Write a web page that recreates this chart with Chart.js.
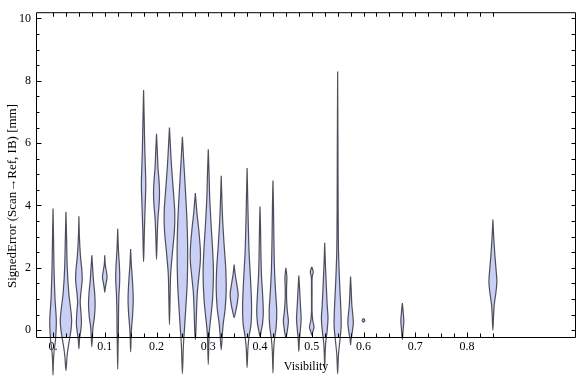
<!DOCTYPE html>
<html>
<head>
<meta charset="utf-8">
<script src="https://cdn.jsdelivr.net/npm/chart.js@4/dist/chart.umd.min.js"></script>
<style>
  html, body { margin: 0; padding: 0; background: #fff; }
</style>
</head>
<body>
<canvas id="myChart" width="576" height="377"></canvas>
<script>
// violin centres (Visibility bins)
const visibility = [0, 0.025, 0.05, 0.075, 0.1, 0.125, 0.15, 0.175, 0.2, 0.225, 0.25, 0.275, 0.3,
  0.325, 0.35, 0.375, 0.4, 0.425, 0.45, 0.475, 0.5, 0.525, 0.55, 0.575, 0.6, 0.675, 0.85];

// signed error levels of each violin, top to bottom [mm]
const errorLevels = [
  [3.9, 3.0, 2.0, 1.0, 0.3, -0.3, -0.7, -1.0, -1.44],
  [3.8, 3.0, 2.0, 1.2, 0.6, 0.3, 0, -0.4, -0.8, -1.3],
  [3.65, 3.0, 2.4, 1.9, 1.6, 1.2, 0.9, 0.5, 0.2, -0.1, -0.3, -0.6],
  [2.4, 2.0, 1.6, 1.2, 0.8, 0.4, 0.1, -0.2, -0.53],
  [2.4, 2.1, 1.85, 1.7, 1.55, 1.35, 1.22],
  [3.25, 2.6, 2.0, 1.6, 1.1, 0.5, 0, -0.5, -1.25],
  [2.6, 2.1, 1.6, 1.0, 0.5, 0.1, -0.2, -0.7],
  [7.7, 6.8, 5.8, 5.0, 4.6, 4.0, 3.2, 2.6, 2.2],
  [6.3, 5.8, 5.2, 4.8, 4.4, 4.0, 3.6, 3.1, 2.27],
  [6.5, 6.0, 5.3, 4.5, 3.8, 3.2, 2.5, 1.8, 1.0, 0.18],
  [6.2, 5.5, 4.5, 3.5, 2.5, 1.5, 0.5, 0, -0.5, -1.4],
  [4.4, 3.8, 3.2, 2.6, 2.2, 1.7, 1.2, 0.6, 0, -0.3],
  [5.8, 5.0, 4.2, 3.3, 2.5, 1.8, 1.0, 0.4, 0, -0.4, -1.1],
  [4.95, 4.2, 3.5, 2.7, 2.0, 1.3, 0.7, 0.2, -0.1, -0.63],
  [2.1, 1.8, 1.5, 1.15, 0.8, 0.6, 0.4],
  [5.2, 4.3, 3.4, 2.5, 1.6, 0.8, 0.2, -0.2, -0.6, -1.2],
  [3.97, 3.3, 2.5, 1.8, 1.2, 0.6, 0.2, 0, -0.2],
  [4.8, 4.0, 3.0, 2.0, 1.3, 0.6, 0.1, -0.3, -0.7, -1.37],
  [2.0, 1.7, 1.4, 1.0, 0.6, 0.3, 0, -0.25],
  [1.75, 1.3, 0.8, 0.35, 0, -0.3, -0.68],
  [2.03, 1.87, 1.7, 1.2, 0.6, 0.3, 0.1, -0.05, -0.16],
  [2.8, 2.2, 1.5, 0.8, 0.4, 0, -0.4, -0.8, -1.2],
  [8.3, 6.0, 4.0, 2.5, 1.5, 0.6, 0.1, -0.4, -0.8, -1.4],
  [1.72, 1.3, 0.8, 0.4, 0.2, -0.1, -0.3, -0.47],
  [0.38, 0.32, 0.26],
  [0.87, 0.6, 0.3, 0, -0.3],
  [3.55, 3.0, 2.4, 1.9, 1.55, 1.2, 0.8, 0.4, 0]
];

// relative density (half width) at each level
const densities = [
  [0, 0.5, 1, 2, 3.3, 2.5, 1, 0.4, 0],
  [0, 0.6, 1.3, 2.8, 5, 5.7, 5, 3, 1.2, 0],
  [0, 0.5, 1.5, 3, 3.3, 2, 1.3, 2.2, 2.5, 1.5, 0.6, 0],
  [0, 0.8, 1.6, 2.8, 3.3, 2.5, 1.2, 0.6, 0],
  [0, 0.5, 1.8, 2.3, 1.6, 0.5, 0],
  [0, 0.7, 1.8, 2, 1.2, 0.8, 0.7, 0.4, 0],
  [0, 0.7, 1.8, 2.6, 2.0, 1.0, 0.5, 0],
  [0, 0.6, 1.2, 2, 2.2, 1.6, 0.8, 0.4, 0],
  [0, 0.7, 1.5, 2.5, 3, 2.5, 1.5, 0.8, 0],
  [0, 0.8, 2, 3.8, 5.3, 5, 3, 1.2, 0.6, 0],
  [0, 1.2, 3, 4.6, 5.3, 4.8, 3, 2, 1, 0],
  [0, 1.5, 3.5, 5, 5, 3.5, 2, 1.2, 0.6, 0],
  [0, 0.8, 1.5, 3, 4.5, 5.2, 4.3, 2.5, 1.2, 0.6, 0],
  [0, 0.7, 1.5, 3, 4.5, 5, 4, 2, 1.2, 0],
  [0, 1, 2.5, 4, 2.8, 1.5, 0],
  [0, 0.6, 1.2, 2, 3.5, 4.5, 4, 2, 0.8, 0],
  [0, 0.5, 0.9, 1.4, 2.5, 3.3, 2.5, 1.3, 0],
  [0, 0.5, 0.9, 1.5, 2.5, 3.8, 3.2, 1.5, 0.6, 0],
  [0, 1, 0.7, 0.7, 1.5, 2.5, 1.5, 0],
  [0, 0.8, 1.6, 2.3, 1.5, 0.6, 0],
  [0, 1.5, 0.4, 0.3, 0.3, 1.0, 2.3, 1.0, 0],
  [0, 0.6, 1.5, 2.5, 3.3, 2.5, 1, 0.4, 0],
  [0, 0.3, 0.5, 0.9, 2, 3.3, 3.5, 2, 0.8, 0],
  [0, 0.6, 1.3, 2.5, 2.7, 1.5, 0.5, 0],
  [0, 1.3, 0],
  [0, 0.8, 1.5, 0.8, 0],
  [0, 0.8, 2, 3.3, 4, 3, 1.3, 0.6, 0]
];

const xTickValues = [0, 0.1, 0.2, 0.3, 0.4, 0.5, 0.6, 0.7, 0.8];
const xTickLabels = ['0.', '0.1', '0.2', '0.3', '0.4', '0.5', '0.6', '0.7', '0.8'];
const yTickValues = [0, 2, 4, 6, 8, 10];
const yTickLabels = ['0', '2', '4', '6', '8', '10'];

// density -> x units
const widthScale = 0.00193;

const serif = '"Liberation Serif", "Times New Roman", serif';
Chart.defaults.font.family = serif;
Chart.defaults.font.size = 12;
Chart.defaults.color = '#000';

// build a closed outline for each violin
const datasets = visibility.map((v, i) => {
  const lv = errorLevels[i];
  const dv = densities[i];
  const right = lv.map((e, k) => ({ x: v + dv[k] * widthScale, y: e }));
  const left = lv.map((e, k) => ({ x: v - dv[k] * widthScale, y: e })).reverse().slice(1);
  return {
    data: right.concat(left),
    showLine: true,
    fill: 'shape',
    backgroundColor: 'rgb(202,208,245)',
    borderColor: 'rgba(50,50,62,0.85)',
    borderWidth: 1.2,
    pointRadius: 0,
    clip: false,
  };
});

// frame with inward ticks + axis titles
const frame = {
  id: 'frame',
  afterDraw(chart) {
    const { ctx, chartArea: a, scales: { x, y } } = chart;
    const L = a.left + 0.5, R = a.right - 0.5, T = a.top + 0.5, B = a.bottom + 0.5;
    ctx.save();
    ctx.strokeStyle = '#000';
    ctx.lineWidth = 1;
    ctx.beginPath();
    ctx.moveTo(L, T); ctx.lineTo(R, T); ctx.lineTo(R, B); ctx.lineTo(L, B); ctx.closePath();
    // x ticks every 0.025
    for (let k = 0; k <= 34; k++) {
      const px = Math.round(x.getPixelForValue(k * 0.025)) + 0.5;
      const len = k % 4 === 0 ? 5 : 4;
      ctx.moveTo(px, B); ctx.lineTo(px, B - len);
      ctx.moveTo(px, T); ctx.lineTo(px, T + 4);
    }
    // y ticks every 0.5
    for (let k = 0; k <= 20; k++) {
      const py = Math.round(y.getPixelForValue(k * 0.5)) + 0.5;
      const len = k % 4 === 0 ? 5 : 3;
      ctx.moveTo(L, py); ctx.lineTo(L + len, py);
      ctx.moveTo(R, py); ctx.lineTo(R - 4, py);
    }
    ctx.stroke();

    ctx.fillStyle = '#000';
    ctx.font = '12px ' + serif;
    ctx.textAlign = 'center';
    ctx.textBaseline = 'middle';
    ctx.fillText('Visibility', (a.left + a.right) / 2, 367);
    ctx.font = '13px ' + serif;
    ctx.translate(13, 196);
    ctx.rotate(-Math.PI / 2);
    ctx.fillText('SignedError (Scan\u2192Ref, IB) [mm]', 0, 0);
    ctx.restore();
  }
};

new Chart(document.getElementById('myChart').getContext('2d'), {
  type: 'scatter',
  data: { datasets },
  options: {
    responsive: false,
    animation: false,
    devicePixelRatio: 1,
    layout: { padding: { top: 4, right: 0, bottom: 0, left: 0 } },
    plugins: { legend: { display: false }, tooltip: { enabled: false } },
    elements: { line: { tension: 0.3, capBezierPoints: false } },
    scales: {
      x: {
        type: 'linear',
        min: -0.0329,
        max: 1.0106,
        grid: { display: false, drawTicks: false },
        border: { display: false },
        ticks: { padding: 3, autoSkip: false, maxRotation: 0, callback: (val, i) => xTickLabels[i] },
        afterBuildTicks: (s) => { s.ticks = xTickValues.map((value) => ({ value })); },
        afterFit: (s) => { s.height = 40; },
      },
      y: {
        type: 'linear',
        min: -0.22,
        max: 10.2,
        grid: { display: false, drawTicks: false },
        border: { display: false },
        ticks: { padding: 5, autoSkip: false, callback: (val, i) => yTickLabels[i] },
        afterBuildTicks: (s) => { s.ticks = yTickValues.map((value) => ({ value })); },
        afterFit: (s) => { s.width = 36; },
      },
    },
  },
  plugins: [frame],
});
</script>
</body>
</html>
